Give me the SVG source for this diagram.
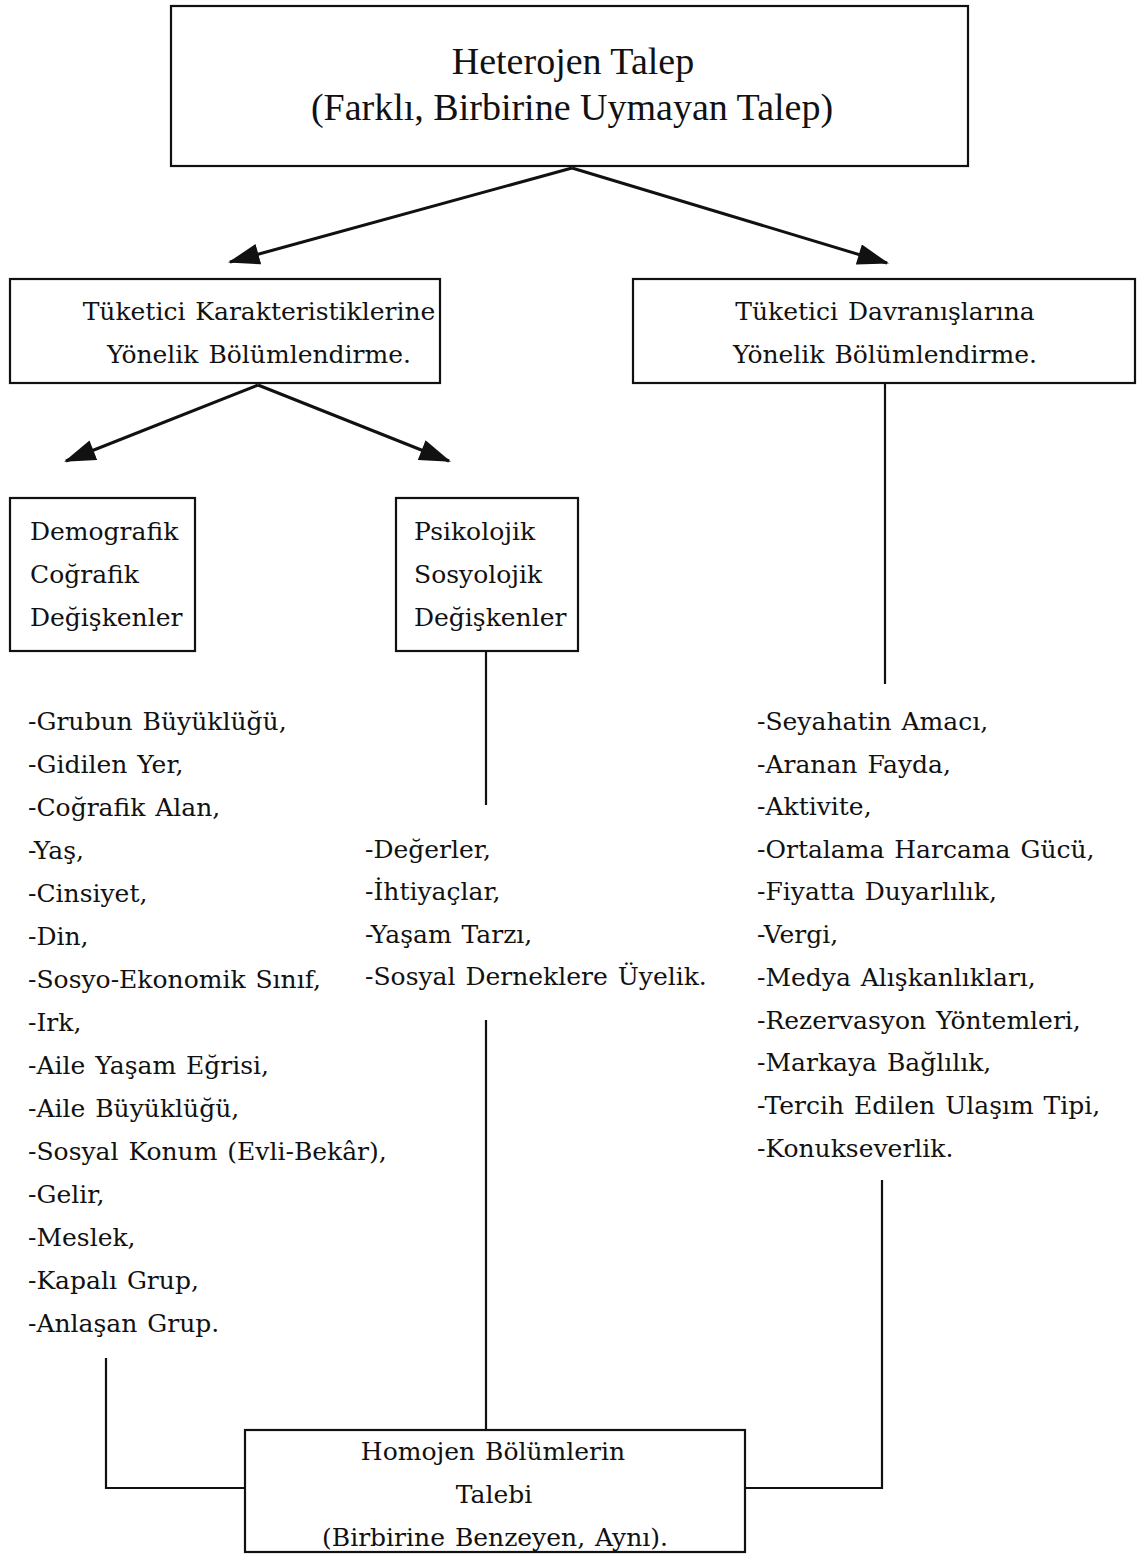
<svg xmlns="http://www.w3.org/2000/svg" width="1139" height="1554" viewBox="0 0 1139 1554">
<defs>
<style>
.box{fill:#fff;stroke:#111;stroke-width:2.2}
.ln{fill:none;stroke:#111;stroke-width:2.2}
.ar{fill:none;stroke:#111;stroke-width:3}
.t{font-family:"DejaVu Serif","Liberation Serif",serif;font-size:25px;word-spacing:2px;fill:#111}
.h{font-family:"Liberation Serif","DejaVu Serif",serif;font-size:38px;fill:#111}
.c{text-anchor:middle}
</style>
<marker id="ah" viewBox="0 0 30 20" refX="28" refY="10" markerWidth="32" markerHeight="21" markerUnits="userSpaceOnUse" orient="auto">
<path d="M0,0 L30,10 L0,20 Z" fill="#111"/>
</marker>
</defs>
<rect width="1139" height="1554" fill="#fff"/>
<g id="connectors">
<line class="ar" x1="572" y1="168" x2="230" y2="262" marker-end="url(#ah)"/>
<line class="ar" x1="572" y1="168" x2="887" y2="263" marker-end="url(#ah)"/>
<line class="ar" x1="258" y1="385" x2="66" y2="461" marker-end="url(#ah)"/>
<line class="ar" x1="258" y1="385" x2="449" y2="461" marker-end="url(#ah)"/>
<line class="ln" x1="486" y1="652" x2="486" y2="805"/>
<line class="ln" x1="486" y1="1020" x2="486" y2="1430"/>
<line class="ln" x1="885" y1="384" x2="885" y2="684"/>
<polyline class="ln" points="882,1180 882,1488 745,1488"/>
<polyline class="ln" points="106,1358 106,1488 245,1488"/>
</g>
<g id="heterojen">
<rect class="box" x="171" y="6" width="797" height="160"/>
<text class="h c" x="573" y="74">Heterojen Talep</text>
<text class="h c" x="572" y="120">(Farklı, Birbirine Uymayan Talep)</text>
</g>
<g id="karakteristik">
<rect class="box" x="10" y="279" width="430" height="104"/>
<text class="t c" x="259" y="320">Tüketici Karakteristiklerine</text>
<text class="t c" x="259" y="363">Yönelik Bölümlendirme.</text>
</g>
<g id="davranis">
<rect class="box" x="633" y="279" width="502" height="104"/>
<text class="t c" x="885" y="320">Tüketici Davranışlarına</text>
<text class="t c" x="885" y="363">Yönelik Bölümlendirme.</text>
</g>
<g id="demografik">
<rect class="box" x="10" y="498" width="185" height="153"/>
<text class="t" x="30" y="540">Demografik</text>
<text class="t" x="30" y="583">Coğrafik</text>
<text class="t" x="30" y="626">Değişkenler</text>
</g>
<g id="psikolojik">
<rect class="box" x="396" y="498" width="182" height="153"/>
<text class="t" x="414" y="540">Psikolojik</text>
<text class="t" x="414" y="583">Sosyolojik</text>
<text class="t" x="414" y="626">Değişkenler</text>
</g>
<g id="list-demografik">
<text class="t" x="28" y="730">-Grubun Büyüklüğü,</text>
<text class="t" x="28" y="773">-Gidilen Yer,</text>
<text class="t" x="28" y="816">-Coğrafik Alan,</text>
<text class="t" x="28" y="859">-Yaş,</text>
<text class="t" x="28" y="902">-Cinsiyet,</text>
<text class="t" x="28" y="945">-Din,</text>
<text class="t" x="28" y="988">-Sosyo-Ekonomik Sınıf,</text>
<text class="t" x="28" y="1031">-Irk,</text>
<text class="t" x="28" y="1074">-Aile Yaşam Eğrisi,</text>
<text class="t" x="28" y="1117">-Aile Büyüklüğü,</text>
<text class="t" x="28" y="1160">-Sosyal Konum (Evli-Bekâr),</text>
<text class="t" x="28" y="1203">-Gelir,</text>
<text class="t" x="28" y="1246">-Meslek,</text>
<text class="t" x="28" y="1289">-Kapalı Grup,</text>
<text class="t" x="28" y="1332">-Anlaşan Grup.</text>
</g>
<g id="list-psikolojik">
<text class="t" x="365" y="858">-Değerler,</text>
<text class="t" x="365" y="900">-İhtiyaçlar,</text>
<text class="t" x="365" y="943">-Yaşam Tarzı,</text>
<text class="t" x="365" y="985">-Sosyal Derneklere Üyelik.</text>
</g>
<g id="list-davranis">
<text class="t" x="757" y="730">-Seyahatin Amacı,</text>
<text class="t" x="757" y="773">-Aranan Fayda,</text>
<text class="t" x="757" y="815">-Aktivite,</text>
<text class="t" x="757" y="858">-Ortalama Harcama Gücü,</text>
<text class="t" x="757" y="900">-Fiyatta Duyarlılık,</text>
<text class="t" x="757" y="943">-Vergi,</text>
<text class="t" x="757" y="986">-Medya Alışkanlıkları,</text>
<text class="t" x="757" y="1029">-Rezervasyon Yöntemleri,</text>
<text class="t" x="757" y="1071">-Markaya Bağlılık,</text>
<text class="t" x="757" y="1114">-Tercih Edilen Ulaşım Tipi,</text>
<text class="t" x="757" y="1157">-Konukseverlik.</text>
</g>
<g id="homojen">
<rect class="box" x="245" y="1430" width="500" height="122"/>
<text class="t c" x="493" y="1460">Homojen Bölümlerin</text>
<text class="t c" x="494" y="1503">Talebi</text>
<text class="t c" x="495" y="1546">(Birbirine Benzeyen, Aynı).</text>
</g>
</svg>
